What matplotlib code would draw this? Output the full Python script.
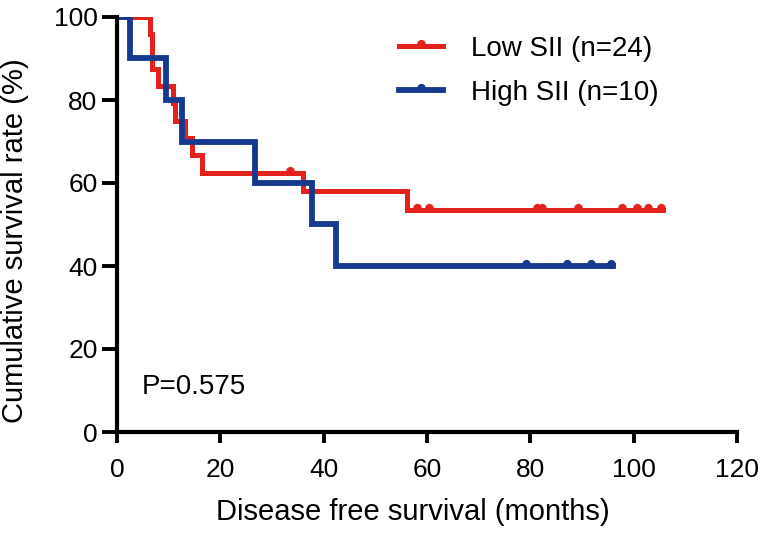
import matplotlib
matplotlib.use("Agg")
import matplotlib.pyplot as plt
from matplotlib.lines import Line2D
from matplotlib.path import Path

plt.rcParams['font.family'] = ['Liberation Sans', 'DejaVu Sans']

# Kaplan-Meier steps (months, % surviving)
low_times = [0, 6.3, 6.8, 8.0, 10.8, 11.3, 13.2, 14.5, 16.5, 36.0, 56.2, 105.6]
low_surv = [100, 95.8, 87.5, 83.3, 79.2, 75.0, 70.8, 66.7, 62.5, 58.0, 53.6, 53.6]
low_cens_t = [33.5, 58.0, 60.3, 81.2, 82.2, 89.2, 97.7, 100.6, 102.8, 105.2]
low_cens_s = [62.5, 53.6, 53.6, 53.6, 53.6, 53.6, 53.6, 53.6, 53.6, 53.6]

high_times = [0, 2.5, 9.4, 12.5, 26.8, 37.8, 42.3, 96.0]
high_surv = [100, 90, 80, 70, 60, 50, 40, 40]
high_cens_t = [79.2, 87.0, 91.7, 95.7]
high_cens_s = [40, 40, 40, 40]

labels = ['Low SII (n=24)', 'High SII (n=10)']
red = '#e3221e'
blue = '#15398f'

# censor mark: a little bump sitting on top of the line
bump = Path.circle(center=(0, 0.4), radius=0.6)

my_dpi = 100
fig = plt.figure(figsize=(761 / my_dpi, 533 / my_dpi), dpi=my_dpi)
ax = fig.add_axes([117 / 761, 1 - 432 / 533, 620 / 761, 415 / 533])

ax.step(low_times, low_surv, where='post', color=red, lw=3.6, solid_joinstyle='miter')
ax.plot(low_cens_t, low_cens_s, ls='none', marker=bump, ms=8.5, color=red)
ax.step(high_times, high_surv, where='post', color=blue, lw=4.2, solid_joinstyle='miter')
ax.plot(high_cens_t, high_cens_s, ls='none', marker=bump, ms=8.5, color=blue)

ax.set_xlim(0, 120)
ax.set_ylim(0, 100)
ax.set_xticks(range(0, 121, 20))
ax.set_yticks(range(0, 101, 20))
ax.spines['top'].set_visible(False)
ax.spines['right'].set_visible(False)
for s in ('left', 'bottom'):
    ax.spines[s].set_linewidth(3)
ax.tick_params(axis='x', length=8, width=2.8, pad=11, labelsize=19)
ax.tick_params(axis='y', length=11, width=2.8, pad=3, labelsize=19)

ax.set_xlabel('Disease free survival (months)', fontsize=21, va='center')
ax.set_ylabel('Cumulative survival rate (%)', fontsize=21, va='center')
ax.xaxis.set_label_coords(0.477, -0.193)
ax.yaxis.set_label_coords(-0.1645, 0.46)

ax.text(4.8, 10.8, 'P=0.575', fontsize=20, va='center', ha='left')

handles = [Line2D([], [], color=red, lw=3.6, marker=bump, ms=8.5),
           Line2D([], [], color=blue, lw=4.2, marker=bump, ms=8.5)]
fig.legend(handles, labels, loc='upper left', bbox_to_anchor=(399 / 761, 1 - 36 / 533),
           frameon=False, fontsize=20, handlelength=1.6, handletextpad=1.0,
           labelspacing=0.65, borderpad=0, borderaxespad=0)

fig.savefig('out.png', dpi=my_dpi)
plt.close(fig)
